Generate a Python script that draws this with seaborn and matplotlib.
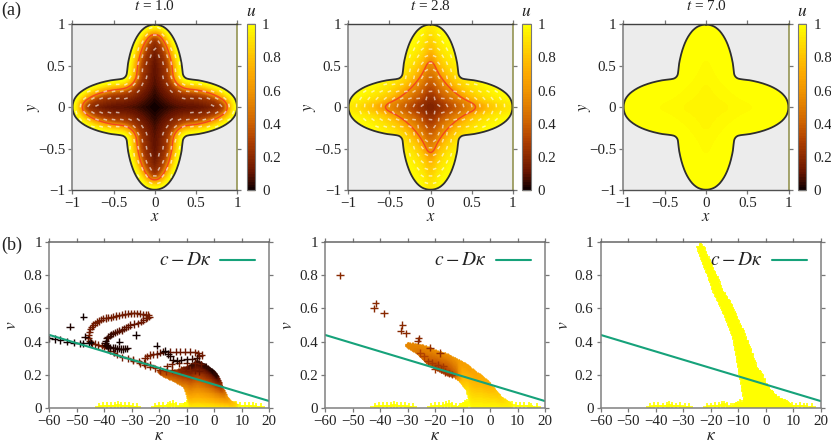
import numpy as np
import pandas as pd
import matplotlib
matplotlib.use("Agg")
import matplotlib.pyplot as plt
from matplotlib.collections import LineCollection
from matplotlib.colors import LinearSegmentedColormap
from matplotlib.path import Path
import seaborn as sns

# ---------- values ----------
times = ["1.0", "2.8", "7.0"]
# outline of one half arm, tip to inner corner (repeated by the symmetry of the shape)
arm_x = [0.0, 0.07, 0.14, 0.2, 0.25, 0.29, 0.315, 0.33, 0.335, 0.35]
arm_y = [1.0, 0.99, 0.95, 0.88, 0.79, 0.68, 0.58, 0.5, 0.42, 0.355]
# u against distance from the edge, t = 1.0
depth_t1 = [0, .03, .06, .09, .12, .16, .2, .3, .4, .5]
u_t1 = [1, .97, .88, .74, .6, .36, .25, .12, .05, 0]
# u against the softened star-shaped radius (|x|^.65 + |y|^.65)^(1/.65), t = 2.8 and t = 7.0
star_t2 = [0, .1, .25, .45, .68, .85, 1.05, 1.3, 1.6]
u_t2 = [.16, .18, .27, .42, .6, .8, .9, .97, 1]
star_t3 = [0, .3, .6, 1]
u_t3 = [.95, .965, .98, 1]

palette_pos = [0, .1, .2, .3, .4, .5, .6, .7, .8, .9, 1]
palette_col = ['#120000', '#661400', '#8c2a00', '#b04000', '#cc6000', '#e07c00',
               '#f09400', '#fca800', '#ffc000', '#ffe000', '#ffff00']

line_kappa = [-60, 20]
line_v = [0.44, 0.04]

ground_kappa = [-42, -40.5, -39, -37.5, -36, -35, -34, -32.5, -31, -29.5, -28,
                -21.5, -20, -18.5, -17, -16, -15, -14, -12.5,
                5, 6.5, 8, 9.5, 11, 12.5, 14, 15, 17]
ground_v = [.005, .01, .012, .008, .01, .015, .012, .008, .01, .005, .003,
            .005, .008, .012, .01, .018, .02, .012, .005,
            .02, .015, .018, .012, .008, .01, .008, .006, .003]

# t = 1.0: tracks of single points
t1_kappa = [-24, -25, -26, -27, -28.2, -29.2, -30.3, -31.4, -32.5, -33.5, -34.6, -35.6, -36.7, -37.6, -38.6, -39.5, -40.4,
            -41.2, -42, -42.8, -43.4, -44, -44.6, -45.1, -45.5, -45.7, -45.8, -45.3, -44.6,
            -43.4, -42.2, -41, -40, -38.8, -37.8, -36.6, -35.5, -33.5, -31.5, -29.5, -27.5, -25.5, -23.4,
            -23.6, -24.4, -25, -25.8, -26.7, -27.6, -29.2, -30.7, -31.4, -32.2, -33, -33.7, -34.5, -35.2, -36, -36.7, -37.4, -38,
            -38.6, -39.1, -39.5, -39.7, -39.4, -39, -38.5, -37.8, -37, -36.1, -35.5, -34.8, -34, -33.2, -32.4, -31.6,
            -60, -58, -56, -53.6, -51.1, -49, -47.6, -45.4, -45,
            -47.6, -52.5, -47, -34.5, -28.5, -21, -17.9,
            -25.2, -24.3, -23.4, -22.2, -21, -19.8, -18.5, -16, -14, -12.5, -10.5, -8.8, -7, -5.8, -4.6, -5.4, -6.4, -8, -10, -12, -13.7,
            -15, -16.1, -16.7,
            -29.4, -27, -25.2, -23.4, -21.5, -19.7, -17.5,
            -17.2, -15.5, -13, -10, -7, -5, -15.5, -12, -9, -7, -5.5]
t1_v = [.56, .563, .565, .568, .57, .57, .57, .568, .566, .562, .558, .554, .55, .547, .545, .542, .54,
        .533, .525, .518, .51, .5, .49, .475, .46, .44, .42, .405, .39,
        .385, .38, .375, .37, .358, .345, .333, .32, .305, .298, .29, .28, .27, .26,
        .55, .545, .54, .53, .52, .51, .505, .50, .49, .485, .478, .47, .465, .46, .455, .45, .443, .435,
        .428, .42, .405, .39, .38, .375, .37, .365, .36, .36, .358, .356, .355, .355, .356, .358,
        .42, .415, .41, .40, .393, .39, .389, .39, .395,
        .55, .49, .43, .40, .44, .375, .343,
        .30, .31, .319, .322, .325, .332, .339, .339, .339, .339, .339, .339, .335, .329, .319, .31, .30, .297, .293, .29, .285,
        .29, .31, .325,
        .285, .268, .258, .248, .238, .228, .22,
        .25, .262, .268, .27, .27, .262, .23, .228, .23, .225, .22]
t1_u = [.17, .15, .14, .14, .14, .14, .14, .14, .14, .14, .14, .14, .14, .14, .14, .14, .14,
        .14, .14, .14, .14, .14, .14, .14, .14, .14, .14, .14, .14,
        .14, .14, .14, .14, .14, .14, .14, .14, .14, .14, .14, .14, .14, .14,
        .14, .14, .13, .12, .12, .12, .1, .1, .1, .1, .08, .08, .08, .08, .07, .07, .06, .06,
        .05, .05, .03, .03, .03, .03, .03, .02, .02, .02, .02, .02, .02, .02, .02, .02,
        .01, .01, .01, .01, .01, .01, .01, .01, .01,
        .01, .03, .03, .01, .01, .01, .01,
        .15, .15, .15, .13, .12, .08, .06, .1, .1, .12, .12, .12, .14, .14, .14, .1, .06, .05, .03, .02, .02,
        .02, .02, .02,
        .18, .2, .2, .2, .2, .2, .22,
        .14, .14, .14, .14, .12, .1, .18, .18, .16, .14, .12]
# t = 1.0: the dense fan, as columns (kappa, top v, u at top, bottom v, u at bottom)
fan1_kappa = [-20, -18.5, -14.9, -11.3, -10, -8.8, -7.6, -6.4, -4.6, -1.6, .9, 2.3, 3.9, 5.7, 8.1]
fan1_top = [.225, .218, .218, .238, .245, .258, .27, .28, .27, .238, .198, .138, .077, .037, .023]
fan1_utop = [.3, .35, .3, .15, .1, .05, .05, .05, .04, .03, .03, .25, .55, .75, .9]
fan1_bot = [.215, .198, .172, .138, .10, .0, .0, .0, .0, .0, .0, .0, .0, .0, .0]
fan1_ubot = [.35, .45, .5, .55, .7, 1, 1, 1, 1, 1, 1, 1, 1, 1, 1]
base_kappa = [-11.8, -10.8, -10, -9.4, -11, -10]
base_v = [.006, .012, .02, .03, .004, .006]

# t = 2.8
t2_kappa = [-54.5, -41.6, -42.2, -38.5, -31.9, -32.5, -30.5, -26, -26.3, -21.8, -18.2,
            -25.5, -24, -22.5, -21, -19, -20, -18, -16.5, -15, -14, -17]
t2_v = [.80, .63, .60, .57, .50, .466, .45, .42, .405, .363, .33,
        .33, .31, .28, .27, .26, .235, .23, .215, .205, .2, .25]
t2_u = [.2, .2, .2, .2, .2, .2, .2, .2, .2, .22, .22,
        .3, .3, .28, .28, .26, .26, .24, .24, .24, .26, .27]
fan2_kappa = [-30.3, -26.7, -23, -19.4, -15.8, -13.3, -10.9, -8.5, -7.3, -6.7, -5, -3.6, -1.5, 0, 1.5, 3.6, 5.4, 7.3]
fan2_top = [.389, .38, .365, .34, .32, .30, .28, .258, .24, .23, .21, .198, .165, .14, .11, .067, .045, .026]
fan2_utop = [.55, .55, .58, .6, .6, .62, .65, .66, .66, .68, .68, .7, .72, .75, .8, .85, .9, .95]
fan2_bot = [.375, .34, .278, .238, .208, .198, .167, .117, .056, 0, 0, 0, 0, 0, 0, 0, 0, 0]
fan2_ubot = [.55, .5, .4, .3, .3, .4, .8, .9, 1, 1, 1, 1, 1, 1, 1, 1, 1, 1]
base2_kappa = [-11, -10, -9, -8.2, -10.5, -9.5, -8.5, -7.6]
base2_v = [.004, .012, .022, .03, .006, .008, .01, .036]

# t = 7.0: rows (v, left kappa, right kappa)
row3_v = [.98, .9, .8, .7, .62, .52, .42, .3, .238, .2, .137, .117, .077, .056, .036, .02, .005]
row3_left = [-24, -22.5, -20, -18, -15.6, -13, -10.8, -9.5, -8.8, -8.5, -7.8, -7.6, -7.2, -6.9, -7, -9, -10.5]
row3_right = [-23.5, -21.5, -18.7, -16.2, -13, -10.5, -7.8, -5.1, -3.8, -2, -.5, .4, 2.8, 3.5, 6.4, 8, 9]

xtick_a = [-1, -0.5, 0, 0.5, 1]
xtick_b = list(range(-60, 21, 10))
ytick_b = [0, .2, .4, .6, .8, 1]
cbar_ticks = [0, .2, .4, .6, .8, 1]

# ---------- layout (pixels of the 831 x 444 picture) ----------
W, H = 831, 444
top_boxes = [(72.3, 237.3), (348.3, 512.7), (623.3, 788.7)]
cbar_boxes = [(246.7, 255), (522, 530.7), (798, 806.3)]
bot_boxes = [(49.3, 269.3), (325, 545), (600.7, 820.7)]
TOP_Y = (24.3, 190)
BOT_Y = (242.3, 407.7)


def box(x, y):
    return [x[0] / W, 1 - y[1] / H, (x[1] - x[0]) / W, (y[1] - y[0]) / H]


sns.set_style("ticks")
plt.rcParams.update({
    "font.family": ["Liberation Serif", "DejaVu Serif"],
    "mathtext.fontset": "stix",
    "font.size": 10.8,
    "xtick.labelsize": 10.8,
    "ytick.labelsize": 10.8,
    "axes.unicode_minus": True,
    "text.color": "#222222",
    "xtick.labelcolor": "#222222",
    "ytick.labelcolor": "#222222",
})

cmap = LinearSegmentedColormap.from_list("heat", list(zip(palette_pos, palette_col)), N=64)

# ---------- shape and fields ----------
half = np.column_stack([arm_x, arm_y])
mirror = half[::-1, ::-1][1:]
q1 = np.vstack([half, mirror])                 # from (0,1) to (1,0)
q4 = (q1 * [1, -1])[::-1][1:]
q34 = np.vstack([q1, q4])
left = (q34 * [-1, 1])[::-1][1:-1]
outline = np.vstack([q34, left])
closed = np.vstack([outline, outline[:1]])
arc = np.r_[0, np.cumsum(np.hypot(*np.diff(closed, axis=0).T))]
s = np.linspace(0, arc[-1], 800, endpoint=False)
ox, oy = np.interp(s, arc, closed[:, 0]), np.interp(s, arc, closed[:, 1])
win = np.ones(13) / 13
ox = np.convolve(np.r_[ox[-6:], ox, ox[:6]], win, "valid")
oy = np.convolve(np.r_[oy[-6:], oy, oy[:6]], win, "valid")
ox, oy = np.r_[ox, ox[0]], np.r_[oy, oy[0]]

N = 330
g = (np.arange(N) + .5) / N * 2 - 1
X, Y = np.meshgrid(g, g)
inside = Path(np.column_stack([ox, oy])).contains_points(
    np.column_stack([X.ravel(), Y.ravel()])).reshape(X.shape)
dist = np.zeros_like(X)
for i in range(N):
    dx = X[i][:, None] - ox[::3]
    dy = Y[i][:, None] - oy[::3]
    dist[i] = np.hypot(dx, dy).min(axis=1)
order = np.argsort(np.arctan2(oy[:-1], ox[:-1]))
th = np.arctan2(oy[:-1], ox[:-1])[order]
rr = np.hypot(ox[:-1], oy[:-1])[order]
frac = np.hypot(X, Y) / np.interp(np.arctan2(Y, X), th, rr, period=2 * np.pi)
star = (np.abs(X) ** .65 + np.abs(Y) ** .65) ** (1 / .65)


def soften(a, width=21):
    kernel = np.ones(width) / width
    pad = width // 2
    a = np.pad(a, pad, mode="edge")
    a = np.apply_along_axis(lambda r: np.convolve(r, kernel, "valid"), 0, a)
    a = np.apply_along_axis(lambda r: np.convolve(r, kernel, "valid"), 1, a)
    return a


star = soften(star)
fields = [np.interp(dist, depth_t1, u_t1), np.interp(star, star_t2, u_t2), np.interp(star, star_t3, u_t3)]


def to_cell(v):
    return (np.asarray(v, float) + 1) / 2 * N


hx, hy = [], []
for j, yy in enumerate(np.arange(-1, 1.001, .085)):
    for xx in np.arange(-1 + (j % 2) * .05, 1.001, .1):
        hx.append(xx)
        hy.append(yy)
hx, hy = np.array(hx), np.array(hy)

fig = plt.figure(figsize=(W / 100, H / 100), dpi=100)

SPINE = "#808080"
for k in range(3):
    ax = fig.add_axes(box(top_boxes[k], TOP_Y))
    cax = fig.add_axes(box(cbar_boxes[k], TOP_Y))
    field = np.where(inside, fields[k], np.nan)
    sns.heatmap(field, ax=ax, cmap=cmap, vmin=0, vmax=1, cbar_ax=cax,
                xticklabels=False, yticklabels=False, rasterized=True)
    ax.set_ylim(0, N)
    ax.set_xlim(0, N)
    ax.set_facecolor("#ececec")
    ax.set_xticks(to_cell(xtick_a), ["\u22121", "\u22120.5", "0", "0.5", "1"])
    ax.set_yticks(to_cell(xtick_a), ["\u22121", "\u22120.5", "0", "0.5", "1"])
    ax.tick_params(axis="both", which="both", direction="out", length=3.2, width=.9, color="#777777",
                   top=True, right=True, bottom=True, left=True, pad=2,
                   labelrotation=0)
    for name, col, lw in [("left", "#8c8c8c", 1.3), ("right", "#8c8c45", 1.1), ("top", "#404040", 1), ("bottom", "#505050", 1)]:
        ax.spines[name].set_visible(True)
        ax.spines[name].set_color(col)
        ax.spines[name].set_linewidth(lw)
    ax.set_xlabel("$x$", fontsize=12, labelpad=-1)
    ax.set_ylabel("$y$", fontsize=12, labelpad=-3)
    ax.plot(to_cell(ox), to_cell(oy), color="#2e2e2e", lw=1.3, solid_joinstyle="round")
    if k < 2:
        ax.contour(np.arange(N) + .5, np.arange(N) + .5, field, levels=[.6], colors=["#f2461e"], linewidths=1.0)
        base = -dist if k == 0 else frac
        gy, gx = np.gradient(base)
        ci = np.clip(to_cell(hx).astype(int), 0, N - 1)
        cj = np.clip(to_cell(hy).astype(int), 0, N - 1)
        if k == 0:
            keep = inside[cj, ci] & (dist[cj, ci] > .025) & (dist[cj, ci] < .27)
        else:
            keep = inside[cj, ci] & (dist[cj, ci] > .04) & (frac[cj, ci] > .08)
        ang = np.arctan2(gy[cj, ci], gx[cj, ci]) + np.pi / 2
        hl = .022
        segs = [[(to_cell(a - hl * np.cos(t)), to_cell(b - hl * np.sin(t))),
                 (to_cell(a + hl * np.cos(t)), to_cell(b + hl * np.sin(t)))]
                for a, b, t in zip(hx[keep], hy[keep], ang[keep])]
        ax.add_collection(LineCollection(segs, colors=[(1, 1, 1, .62)], linewidths=1.1))
    cb = ax.collections[0].colorbar
    cb.set_ticks(cbar_ticks, labels=["0", "0.2", "0.4", "0.6", "0.8", "1"])
    cax.tick_params(axis="y", direction="in", length=(cbar_boxes[k][1] - cbar_boxes[k][0]) * .72,
                    width=.9, color="#5a3000", pad=5, right=True, left=False)
    cb.outline.set_edgecolor("#777777")
    cb.outline.set_linewidth(.8)
    fig.text(sum(top_boxes[k]) / 2 / W, 1 - 6.5 / H, f"$t$ = {times[k]}", ha="center", va="center", fontsize=11)
    fig.text(sum(cbar_boxes[k]) / 2 / W, 1 - 11.5 / H, "$u$", ha="center", va="center", fontsize=12.5)


# ---------- lower row ----------
def pts(ax, x, y, u, s=28, lw=1.0):
    df = pd.DataFrame({"k": x, "v": y, "u": u}).sort_values("u", ascending=False, kind="stable")
    sns.scatterplot(data=df, x="k", y="v", hue="u", hue_norm=(0, 1), palette=cmap, marker="+",
                    s=s, linewidth=lw, legend=False, ax=ax, clip_on=True)


def fan(kappa, top, utop, bot, ubot, step=.3, dv=.005):
    xs, ys, us = [], [], []
    for c in np.arange(kappa[0], kappa[-1] + 1e-6, step):
        t, b = np.interp(c, kappa, top), np.interp(c, kappa, bot)
        ut, ub = np.interp(c, kappa, utop), np.interp(c, kappa, ubot)
        for vv in np.arange(b, t + 1e-6, dv):
            f = (vv - b) / max(t - b, 1e-6)
            xs.append(c)
            ys.append(vv)
            us.append(ub + (ut - ub) * f)
    return np.array(xs), np.array(ys), np.array(us)


def rows(vs, lefts, rights, dv=.008, step=.45):
    xs, ys = [], []
    for vv in np.arange(min(vs), max(vs) + 1e-6, dv):
        a, b = np.interp(vv, vs[::-1], lefts[::-1]), np.interp(vv, vs[::-1], rights[::-1])
        for c in np.arange(a, b + 1e-6, step):
            xs.append(c)
            ys.append(vv)
    return np.array(xs), np.array(ys)


for k in range(3):
    ax = fig.add_axes(box(bot_boxes[k], BOT_Y))
    if k == 0:
        fx, fy, fu = fan(fan1_kappa, fan1_top, fan1_utop, fan1_bot, fan1_ubot)
        pts(ax, np.r_[ground_kappa, base_kappa], np.r_[ground_v, base_v], np.ones(len(ground_kappa) + len(base_kappa)), s=36, lw=1.2)
        pts(ax, fx, fy, fu, s=9, lw=.8)
        pts(ax, t1_kappa, t1_v, t1_u)
    elif k == 1:
        fx, fy, fu = fan(fan2_kappa, fan2_top, fan2_utop, fan2_bot, fan2_ubot)
        pts(ax, np.r_[ground_kappa, base2_kappa], np.r_[ground_v, base2_v], np.ones(len(ground_kappa) + len(base2_kappa)), s=36, lw=1.2)
        pts(ax, fx, fy, fu, s=9, lw=.8)
        pts(ax, t2_kappa, t2_v, t2_u)
    else:
        fx, fy = rows(row3_v, row3_left, row3_right)
        pts(ax, np.r_[ground_kappa, base_kappa, fx], np.r_[ground_v, base_v, fy],
            np.ones(len(ground_kappa) + len(base_kappa) + len(fx)), s=30, lw=1.2)
    sns.lineplot(x=line_kappa, y=line_v, color="#16a27a", lw=1.5, ax=ax, legend=False)
    ax.set_xlim(-60, 20)
    ax.set_ylim(0, 1)
    ax.set_xticks(xtick_b, [str(t).replace("-", "\u2212") for t in xtick_b])
    ax.set_yticks(ytick_b, ["0", "0.2", "0.4", "0.6", "0.8", "1"])
    ax.tick_params(axis="both", direction="out", length=3.2, width=.9, color="#777777",
                   top=True, right=True, pad=2)
    for sp in ax.spines.values():
        sp.set_visible(True)
        sp.set_color(SPINE)
        sp.set_linewidth(1.1)
    ax.spines["top"].set_color("#666666")
    ax.set_xlabel("$\\kappa$", fontsize=12.5, labelpad=0)
    ax.set_ylabel("$v$", fontsize=12.5, labelpad=2)
    ax.text(162 / 220, 0.892, "$c - D\\kappa$", transform=ax.transAxes, ha="right", va="center", fontsize=14)
    ax.plot([171 / 220, 206 / 220], [.89, .89], transform=ax.transAxes, color="#16a27a", lw=1.5)

fig.text(1.5 / W, 1 - 10 / H, "(a)", ha="left", va="center", fontsize=13)
fig.text(1.5 / W, 1 - 245 / H, "(b)", ha="left", va="center", fontsize=13)

fig.savefig("out.png", dpi=100, facecolor="white")
